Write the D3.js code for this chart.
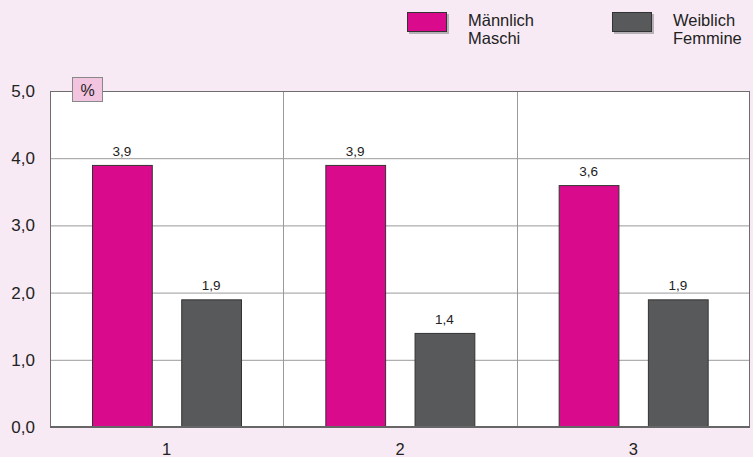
<!DOCTYPE html>
<html>
<head>
<meta charset="utf-8">
<script src="https://cdn.jsdelivr.net/npm/d3@7"></script>
<style>
  html, body { margin: 0; padding: 0; background: #f8eaf4; }
  svg { display: block; font-family: "Liberation Sans", Arial, sans-serif; }
</style>
</head>
<body>
<svg id="chart"></svg>
<script>
// data
const categories = ['1', '2', '3'];
const seriesKeys = ['m', 'w'];
const seriesNames = [['Männlich', 'Maschi'], ['Weiblich', 'Femmine']];
const maleValues = [3.9, 3.9, 3.6];
const femaleValues = [1.9, 1.4, 1.9];
const yTicks = [0, 1, 2, 3, 4, 5];
const colors = ['#d90b8c', '#58595b'];

const layout = { width: 753, height: 457, left: 50, right: 750, top: 91, bottom: 427 };

const svg = d3.select('#chart')
    .attr('width', layout.width)
    .attr('height', layout.height);

const x0 = d3.scaleBand()
    .domain(categories)
    .range([layout.left, layout.right]);

// bars inside each category
const x1 = d3.scaleBand()
    .domain(seriesKeys)
    .range([42, 191])
    .paddingInner(0.33);

const y = d3.scaleLinear()
    .domain([0, 5])
    .range([layout.bottom, layout.top]);

const fmt = v => d3.format('.1f')(v).replace('.', ',');

// plot background
svg.append('rect')
    .attr('x', layout.left)
    .attr('y', layout.top)
    .attr('width', layout.right - layout.left)
    .attr('height', layout.bottom - layout.top)
    .attr('fill', '#fff');

// horizontal grid
svg.append('g')
    .selectAll('line')
    .data(yTicks.slice(1, -1))
    .join('line')
        .attr('x1', layout.left)
        .attr('x2', layout.right)
        .attr('y1', d => y(d) + 0.5)
        .attr('y2', d => y(d) + 0.5)
        .attr('stroke', '#9a9a9a');

// vertical separators
svg.append('g')
    .selectAll('line')
    .data(categories.slice(1))
    .join('line')
        .attr('x1', d => Math.round(x0(d)) + 0.5)
        .attr('x2', d => Math.round(x0(d)) + 0.5)
        .attr('y1', layout.top)
        .attr('y2', layout.bottom)
        .attr('stroke', '#9a9a9a');

// border
svg.append('rect')
    .attr('x', layout.left + 0.5)
    .attr('y', layout.top + 0.5)
    .attr('width', layout.right - layout.left - 1)
    .attr('height', layout.bottom - layout.top - 1)
    .attr('fill', 'none')
    .attr('stroke', '#6d6d6d');

const rows = categories.map((c, i) => ({ cat: c, vals: [maleValues[i], femaleValues[i]] }));

const groups = svg.append('g')
    .selectAll('g')
    .data(rows)
    .join('g')
        .attr('transform', d => `translate(${x0(d.cat)},0)`);

groups.selectAll('rect')
    .data(d => d.vals.map((v, i) => ({ key: seriesKeys[i], v, i })))
    .join('rect')
        .attr('x', d => x1(d.key) + 0.5)
        .attr('y', d => y(d.v) + 0.5)
        .attr('width', x1.bandwidth())
        .attr('height', d => layout.bottom - y(d.v))
        .attr('fill', d => colors[d.i])
        .attr('stroke', '#333')
        .attr('stroke-width', 1);

groups.selectAll('text')
    .data(d => d.vals.map((v, i) => ({ key: seriesKeys[i], v })))
    .join('text')
        .attr('x', d => x1(d.key) + x1.bandwidth() / 2)
        .attr('y', d => y(d.v) - 9)
        .attr('text-anchor', 'middle')
        .attr('font-size', 13.5)
        .attr('fill', '#222')
        .text(d => fmt(d.v));

// baseline
svg.append('line')
    .attr('x1', layout.left)
    .attr('x2', layout.right)
    .attr('y1', layout.bottom)
    .attr('y2', layout.bottom)
    .attr('stroke', '#666')
    .attr('stroke-width', 2);

// y labels
svg.append('g')
    .selectAll('text')
    .data(yTicks)
    .join('text')
        .attr('x', 35)
        .attr('y', d => y(d) + 6)
        .attr('text-anchor', 'end')
        .attr('font-size', 17)
        .attr('fill', '#222')
        .text(d => fmt(d));

// x labels
svg.append('g')
    .selectAll('text')
    .data(categories)
    .join('text')
        .attr('x', d => x0(d) + x0.bandwidth() / 2)
        .attr('y', 455)
        .attr('text-anchor', 'middle')
        .attr('font-size', 16.5)
        .attr('fill', '#222')
        .text(d => d);

// unit box
svg.append('rect')
    .attr('x', 72.5)
    .attr('y', 77.5)
    .attr('width', 30)
    .attr('height', 24)
    .attr('fill', '#f2c4df')
    .attr('stroke', '#888');
svg.append('text')
    .attr('x', 87.5)
    .attr('y', 96)
    .attr('text-anchor', 'middle')
    .attr('font-size', 16)
    .attr('fill', '#222')
    .text('%');

// legend
const legendX = [407, 612];
const legend = svg.append('g')
    .selectAll('g')
    .data(seriesNames)
    .join('g')
        .attr('transform', (d, i) => `translate(${legendX[i]},12)`);

legend.append('rect')
    .attr('x', 2)
    .attr('y', 2)
    .attr('width', 40)
    .attr('height', 20)
    .attr('fill', '#8a8a8a')
    .attr('opacity', 0.6);
legend.append('rect')
    .attr('x', 0.5)
    .attr('y', 0.5)
    .attr('width', 39)
    .attr('height', 19)
    .attr('fill', (d, i) => colors[i])
    .attr('stroke', '#333');
legend.append('text')
    .attr('y', 14)
    .attr('font-size', 16.5)
    .attr('fill', '#222')
    .selectAll('tspan')
    .data(d => d)
    .join('tspan')
        .attr('x', 61)
        .attr('dy', (d, i) => i === 0 ? 0 : 18)
        .text(d => d);
</script>
</body>
</html>
